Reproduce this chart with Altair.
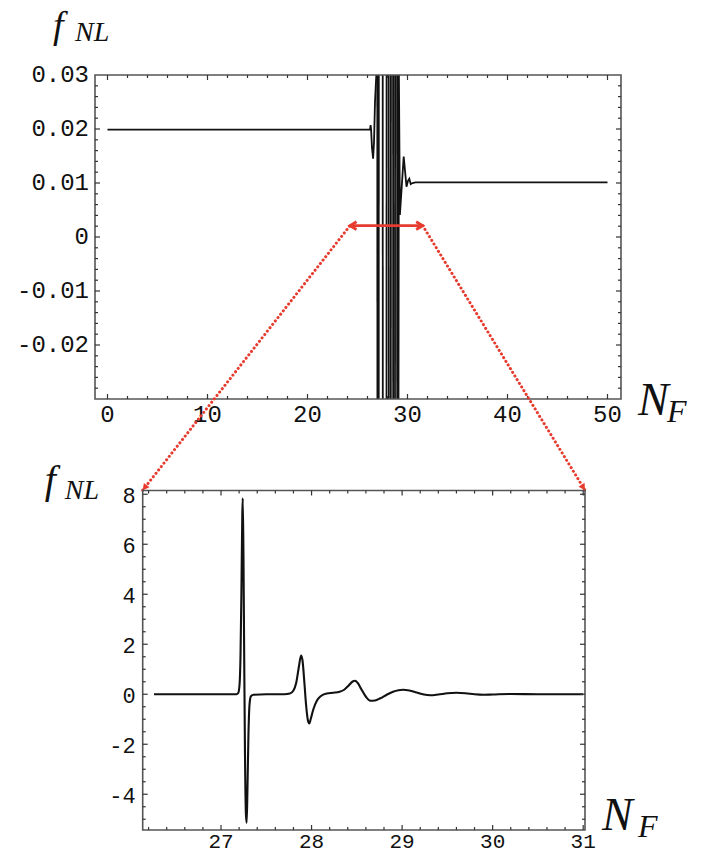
import altair as alt
import pandas as pd

# ---------------- data ----------------
# Upper panel: f_NL vs N_F. Segment ids separate the pieces of the curve that
# lie inside the plotted range (the curve shoots out of range between them).
top_seg = [0] * 9 + [1, 1, 2, 2, 3, 3, 4, 4, 5, 5, 6, 6, 7, 7, 8, 8, 9, 9] + [10] * 11
top_N = [0.0, 26.25, 26.31, 26.36, 26.45, 26.56, 26.65, 26.75, 26.88,
         26.98, 26.99, 27.12, 27.13, 27.52, 27.53, 27.9, 27.91, 28.12, 28.13,
         28.33, 28.34, 28.56, 28.57, 28.75, 28.76, 28.96, 28.97,
         29.1, 29.14, 29.24, 29.62, 29.9, 30.05, 30.18, 30.32, 30.5, 30.8, 50.0]
top_f = [0.0199, 0.0199, 0.0207, 0.0199, 0.0165, 0.0145, 0.0175, 0.025, 0.03,
         0.03, -0.03, -0.03, 0.03, 0.03, -0.03, -0.03, 0.03, 0.03, -0.03,
         -0.03, 0.03, 0.03, -0.03, -0.03, 0.03, 0.03, -0.03,
         -0.03, 0.03, 0.0041, 0.0149, 0.0093, 0.0104, 0.0108, 0.0098, 0.0100, 0.0101, 0.0101]

# Lower panel: zoom on 26.2 < N_F < 31
low_N = [26.26, 27.0, 27.17, 27.19, 27.205, 27.215, 27.225, 27.235, 27.24, 27.248,
         27.256, 27.265, 27.275, 27.283, 27.292, 27.303, 27.315, 27.33, 27.36, 27.5,
         27.7, 27.76, 27.8, 27.83, 27.86, 27.884, 27.9, 27.92, 27.94, 27.96,
         27.975, 27.99, 28.02, 28.06, 28.1, 28.17, 28.24, 28.31, 28.36, 28.41,
         28.45, 28.48, 28.51, 28.55, 28.6, 28.65, 28.7, 28.76, 28.83, 28.9,
         28.96, 29.01, 29.08, 29.16, 29.24, 29.31, 29.4, 29.5, 29.6, 29.7,
         29.8, 29.9, 30.0, 30.2, 30.5, 31.0]
low_f = [0.0, 0.0, 0.0, 0.05, 0.4, 1.5, 4.0, 7.2, 7.84, 5.5,
         1.5, -2.5, -4.8, -5.14, -3.8, -1.6, -0.4, -0.08, -0.02, 0.0,
         0.0, 0.03, 0.15, 0.45, 1.1, 1.55, 1.35, 0.5, -0.45, -1.05,
         -1.17, -1.0, -0.6, -0.25, -0.08, 0.03, 0.06, 0.1, 0.18, 0.35,
         0.5, 0.54, 0.45, 0.2, -0.1, -0.26, -0.25, -0.16, -0.02, 0.1,
         0.16, 0.18, 0.15, 0.07, -0.01, -0.04, -0.01, 0.04, 0.06, 0.04,
         0.0, -0.02, -0.01, 0.01, 0.0, 0.0]

# tick values and labels
top_x_major = [0, 10, 20, 30, 40, 50]
top_x_labels = ["0", "10", "20", "30", "40", "50"]
top_x_minor = [v for v in range(2, 50, 2) if v % 10 != 0]
top_y_major = [-0.02, -0.01, 0.0, 0.01, 0.02]
top_y_label_vals = [-0.02, -0.01, 0.0, 0.01, 0.02, 0.03]
top_y_labels = ["-0.02", "-0.01", "0", "0.01", "0.02", "0.03"]
top_y_minor = [-0.028, -0.026, -0.024, -0.022, -0.018, -0.016, -0.014, -0.012,
               -0.008, -0.006, -0.004, -0.002, 0.002, 0.004, 0.006, 0.008,
               0.012, 0.014, 0.016, 0.018, 0.022, 0.024, 0.026, 0.028]

low_x_major = [27, 28, 29, 30, 31]
low_x_labels = ["27", "28", "29", "30", "31"]
low_x_minor = [26.2, 26.4, 26.6, 26.8, 27.2, 27.4, 27.6, 27.8, 28.2, 28.4, 28.6, 28.8,
               29.2, 29.4, 29.6, 29.8, 30.2, 30.4, 30.6, 30.8]
low_y_major = [-4, -2, 0, 2, 4, 6, 8]
low_y_labels = ["-4", "-2", "0", "2", "4", "6", "8"]
low_y_minor = [-5, -4.5, -3.5, -3, -2.5, -1.5, -1, -0.5, 0.5, 1, 1.5, 2.5, 3, 3.5,
               4.5, 5, 5.5, 6.5, 7, 7.5]

# zoom annotation (in upper-panel data units)
arrow_N = [24.25, 31.52]
arrow_f = [0.0021, 0.0021]
corner_N = [3.52, 47.75]
corner_f = [-0.0469, -0.0469]

# ---------------- styling ----------------
W, H = 693, 842
RED = "#e63b2e"
FRAME = "#555555"
TICK = "#333333"
MONO = "Liberation Mono"
SERIF = "Liberation Serif"

TX = alt.Scale(domain=[-1.25, 51.35], range=[87, 613], nice=False, zero=False)
TY = alt.Scale(domain=[-0.03, 0.03], range=[391, 67], nice=False, zero=False)
LX = alt.Scale(domain=[26.135, 31.02], range=[134.7, 577], nice=False, zero=False)
LY = alt.Scale(domain=[-5.43, 8.15], range=[822, 482.5], nice=False, zero=False)

dummy = pd.DataFrame({"a": [0]})


def XF(field, sc):
    return alt.X(f"{field}:Q", scale=sc, axis=None)


def YF(field, sc):
    return alt.Y(f"{field}:Q", scale=sc, axis=None)


def XD(v, sc):
    return alt.XDatum(v, type="quantitative", scale=sc, axis=None)


def YD(v, sc):
    return alt.YDatum(v, type="quantitative", scale=sc, axis=None)


def frame(sx, sy):
    d0x, d1x = sx.domain
    d0y, d1y = sy.domain
    return alt.Chart(dummy).mark_rect(fillOpacity=0, stroke=FRAME, strokeWidth=1.6).encode(
        x=XD(d0x, sx), x2=alt.X2Datum(d1x), y=YD(d0y, sy), y2=alt.Y2Datum(d1y))


def xticks(vals, sx, sy, length):
    df = pd.DataFrame({"v": vals})
    y0, y1 = sy.domain
    b = alt.Chart(df).mark_rule(color=TICK, strokeWidth=1.2, y2Offset=-length).encode(
        x=XF("v", sx), y=YD(y0, sy), y2=alt.Y2Datum(y0))
    t = alt.Chart(df).mark_rule(color=TICK, strokeWidth=1.2, y2Offset=length).encode(
        x=XF("v", sx), y=YD(y1, sy), y2=alt.Y2Datum(y1))
    return [b, t]


def yticks(vals, sx, sy, length):
    df = pd.DataFrame({"v": vals})
    x0, x1 = sx.domain
    l = alt.Chart(df).mark_rule(color=TICK, strokeWidth=1.2, x2Offset=length).encode(
        y=YF("v", sy), x=XD(x0, sx), x2=alt.X2Datum(x0))
    r = alt.Chart(df).mark_rule(color=TICK, strokeWidth=1.2, x2Offset=-length).encode(
        y=YF("v", sy), x=XD(x1, sx), x2=alt.X2Datum(x1))
    return [l, r]


def xlabels(vals, labs, sx, sy, dy, size):
    df = pd.DataFrame({"v": vals, "lab": labs})
    return alt.Chart(df).mark_text(font=MONO, fontSize=size, align="center", baseline="middle",
                                   dy=dy, color="#111").encode(
        x=XF("v", sx), y=YD(sy.domain[0], sy), text="lab:N")


def ylabels(vals, labs, sx, sy, dx, dy, size):
    df = pd.DataFrame({"v": vals, "lab": labs})
    return alt.Chart(df).mark_text(font=MONO, fontSize=size, align="right", baseline="middle",
                                   dx=dx, dy=dy, color="#111").encode(
        y=YF("v", sy), x=XD(sx.domain[0], sx), text="lab:N")


def label(txt, sx, sy, xv, yv, dx, dy, size):
    return alt.Chart(dummy).mark_text(text=txt, font=SERIF, fontStyle="italic", fontSize=size,
                                      align="left", baseline="alphabetic", dx=dx, dy=dy,
                                      color="#111").encode(x=XD(xv, sx), y=YD(yv, sy))


layers = []

# ---------- upper panel ----------
top_df = pd.DataFrame({"N": top_N, "f": top_f, "seg": top_seg})
layers.append(alt.Chart(top_df).mark_line(color="#111", strokeWidth=1.8).encode(
    x=XF("N", TX), y=YF("f", TY), detail="seg:N"))
layers.append(frame(TX, TY))
layers += xticks(top_x_major, TX, TY, 5)
layers += xticks(top_x_minor, TX, TY, 3)
layers += yticks(top_y_major, TX, TY, 5)
layers += yticks(top_y_minor, TX, TY, 3)
layers.append(xlabels(top_x_major, top_x_labels, TX, TY, 16, 24))
layers.append(ylabels(top_y_label_vals, top_y_labels, TX, TY, -6, 0, 24))
layers.append(label("f", TX, TY, -1.25, 0.03, -42, -37, 38))
layers.append(label("NL", TX, TY, -1.25, 0.03, -20, -34, 28))
layers.append(label("N", TX, TY, 51.35, -0.03, 17, 16, 46))
layers.append(label("F", TX, TY, 51.35, -0.03, 46, 23, 32))

# ---------- zoom annotation ----------
arr_df = pd.DataFrame({"N": arrow_N, "f": arrow_f})
layers.append(alt.Chart(arr_df).mark_line(color=RED, strokeWidth=2.8).encode(
    x=XF("N", TX), y=YF("f", TY)))
left_tip = pd.DataFrame({"N": arrow_N[:1], "f": arrow_f[:1]})
right_tip = pd.DataFrame({"N": arrow_N[1:], "f": arrow_f[1:]})
layers.append(alt.Chart(left_tip).mark_point(shape="M1,-0.6 L0,0 L1,0.6", filled=False, stroke=RED,
                                             strokeWidth=2.8, size=170, opacity=1).encode(
    x=XF("N", TX), y=YF("f", TY)))
layers.append(alt.Chart(right_tip).mark_point(shape="M-1,-0.6 L0,0 L-1,0.6", filled=False, stroke=RED,
                                              strokeWidth=2.8, size=170, opacity=1).encode(
    x=XF("N", TX), y=YF("f", TY)))
dot_df = pd.DataFrame({"N": [arrow_N[0], corner_N[0], arrow_N[1], corner_N[1]],
                       "f": [arrow_f[0], corner_f[0], arrow_f[1], corner_f[1]],
                       "side": ["l", "l", "r", "r"]})
layers.append(alt.Chart(dot_df).mark_line(color=RED, strokeWidth=3, strokeDash=[0.1, 4.2],
                                          strokeCap="round").encode(
    x=XF("N", TX), y=YF("f", TY), detail="side:N"))
cl = pd.DataFrame({"N": corner_N[:1], "f": corner_f[:1]})
cr = pd.DataFrame({"N": corner_N[1:], "f": corner_f[1:]})
layers.append(alt.Chart(cl).mark_point(shape="M0,0 L-0.55,1 L0.55,1 Z", filled=True, color=RED,
                                       size=170, angle=218, opacity=1).encode(
    x=XF("N", TX), y=YF("f", TY)))
layers.append(alt.Chart(cr).mark_point(shape="M0,0 L-0.55,1 L0.55,1 Z", filled=True, color=RED,
                                       size=170, angle=148, opacity=1).encode(
    x=XF("N", TX), y=YF("f", TY)))

# ---------- lower panel ----------
low_df = pd.DataFrame({"N": low_N, "f": low_f})
layers.append(alt.Chart(low_df).mark_line(color="#111", strokeWidth=2.1, interpolate="monotone").encode(
    x=XF("N", LX), y=YF("f", LY)))
layers.append(frame(LX, LY))
layers += xticks(low_x_major, LX, LY, 5)
layers += xticks(low_x_minor, LX, LY, 3)
layers += yticks(low_y_major, LX, LY, 5)
layers += yticks(low_y_minor, LX, LY, 3)
layers.append(xlabels(low_x_major, low_x_labels, LX, LY, 11.5, 21))
layers.append(ylabels(low_y_major, low_y_labels, LX, LY, -7, 2, 22))
layers.append(label("f", LX, LY, 26.135, 8.15, -98, 2, 40))
layers.append(label("NL", LX, LY, 26.135, 8.15, -78, 8.5, 28))
layers.append(label("N", LX, LY, 31.02, -5.43, 17, 0, 46))
layers.append(label("F", LX, LY, 31.02, -5.43, 53, 7, 32))

chart = alt.layer(*layers).resolve_scale(x="independent", y="independent").properties(
    width=W, height=H, autosize=alt.AutoSizeParams(type="none"), padding=0
).configure_view(strokeWidth=0)

chart.save("out.html", embed_options={"renderer": "svg", "actions": False})
